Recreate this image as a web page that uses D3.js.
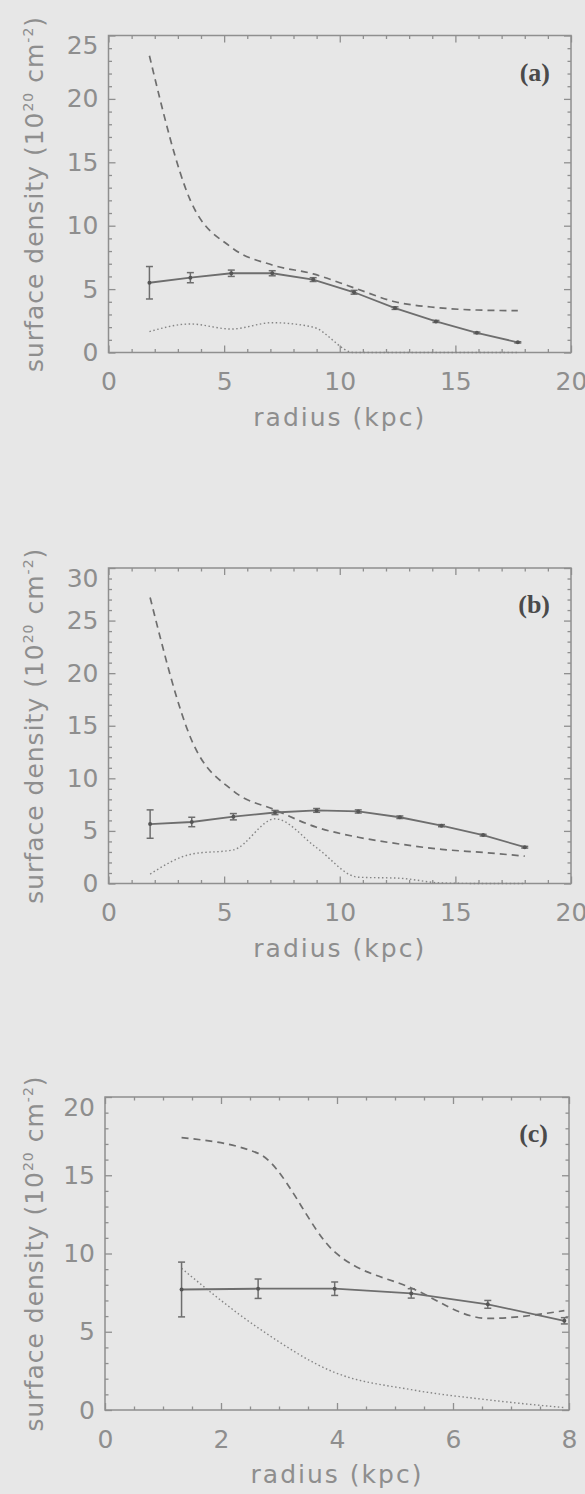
<!DOCTYPE html>
<html>
<head>
<meta charset="utf-8">
<script src="https://cdn.jsdelivr.net/npm/d3@7"></script>
<style>
  html, body { margin: 0; padding: 0; background: #e7e7e7; }
  svg { display: block; }
  .tick text { font-family: "DejaVu Sans", sans-serif; font-size: 25px; fill: #8e8e8e; }
  .title { font-family: "DejaVu Sans", sans-serif; font-size: 25px; fill: #8e8e8e; letter-spacing: 1px; }
  .xtitle { letter-spacing: 2px; }
  .letter { font-family: "Liberation Serif", serif; font-size: 26px; font-weight: bold; fill: #4a4a4a; }
</style>
</head>
<body>
<div id="chart"></div>
<script>

// panel (a)
var radii_a = [1.77, 3.54, 5.31, 7.08, 8.85, 10.62, 12.39, 14.16, 15.93, 17.7]
var solid_a = [5.5, 5.9, 6.25, 6.25, 5.75, 4.75, 3.5, 2.45, 1.55, 0.8]
var err_a = [1.28, 0.4, 0.25, 0.2, 0.15, 0.15, 0.1, 0.08, 0.06, 0.05]
var dashed_a = [23.4, 12.0, 8.3, 6.9, 6.2, 5.1, 4.0, 3.55, 3.35, 3.3]
var dotted_a = [1.65, 2.25, 1.85, 2.35, 2.0, 0, 0, 0, 0, 0]

// panel (b)
var radii_b = [1.8, 3.6, 5.4, 7.2, 9.0, 10.8, 12.6, 14.4, 16.2, 18.0]
var solid_b = [5.65, 5.85, 6.35, 6.75, 6.95, 6.85, 6.3, 5.5, 4.6, 3.45]
var err_b = [1.35, 0.45, 0.3, 0.2, 0.18, 0.15, 0.12, 0.1, 0.08, 0.08]
var dashed_b = [27.2, 13.6, 8.8, 7.0, 5.35, 4.4, 3.75, 3.25, 2.95, 2.6]
var dotted_b = [0.9, 2.8, 3.2, 6.15, 3.4, 0.6, 0.5, 0.05, 0, 0]

// panel (c)
var radii_c = [1.32, 2.64, 3.96, 5.28, 6.6, 7.92]
var solid_c = [7.7, 7.75, 7.75, 7.45, 6.75, 5.7]
var err_c = [1.75, 0.62, 0.43, 0.3, 0.25, 0.2]
var dashed_c = [17.4, 16.4, 10.1, 7.8, 5.85, 6.35]
var dotted_c = [9.05, 5.25, 2.4, 1.3, 0.65, 0.15]

var x_ticks_ac = [0, 5, 10, 15, 20]
var x_ticks_c = [0, 2, 4, 6, 8]
var y_ticks_a = [0, 5, 10, 15, 20, 25]
var y_ticks_b = [0, 5, 10, 15, 20, 25, 30]
var y_ticks_c = [0, 5, 10, 15, 20]

var x_title = 'radius (kpc)'
var panel_letters = ['(a)', '(b)', '(c)']

var panels = [
	{ letter: panel_letters[0], r: radii_a, solid: solid_a, err: err_a, dashed: dashed_a, dotted: dotted_a,
	  xt: x_ticks_ac, yt: y_ticks_a, xminor: 1, yminor: 1,
	  left: 108.5, right: 571, top: 35.5, bottom: 352.5 },
	{ letter: panel_letters[1], r: radii_b, solid: solid_b, err: err_b, dashed: dashed_b, dotted: dotted_b,
	  xt: x_ticks_ac, yt: y_ticks_b, xminor: 1, yminor: 1,
	  left: 108.5, right: 571, top: 568, bottom: 883.5 },
	{ letter: panel_letters[2], r: radii_c, solid: solid_c, err: err_c, dashed: dashed_c, dotted: dotted_c,
	  xt: x_ticks_c, yt: y_ticks_c, xminor: 0.5, yminor: 1,
	  left: 105, right: 569, top: 1097, bottom: 1410 }
]

var width = 585,
	height = 1494,
	axis_color = '#8f8f8f',
	line_color = '#6e6e6e'

var svg = d3.select('#chart')
	.append('svg')
	.attr('width', width)
	.attr('height', height)

svg.append('rect')
	.attr('width', width)
	.attr('height', height)
	.attr('fill', '#e7e7e7')

panels.forEach(p => draw_panel(p))

function minor_values(ticks, step) {
	var lo = ticks[0], hi = ticks[ticks.length - 1], out = []
	for (var v = lo; v <= hi + 1e-9; v += step) {
		var vv = Math.round(v * 100) / 100
		if (ticks.indexOf(vv) < 0) out.push(vv)
	}
	return out
}

function style_axis(g) {
	g.select('.domain').remove()
	g.selectAll('.tick line').attr('stroke', axis_color).attr('stroke-width', 1.3)
}

function draw_panel(p) {

	var x = d3.scaleLinear()
		.domain([p.xt[0], p.xt[p.xt.length - 1]])
		.range([p.left, p.right])

	var y = d3.scaleLinear()
		.domain([p.yt[0], p.yt[p.yt.length - 1]])
		.range([p.bottom, p.top])

	var g = svg.append('g')

	var xminor = minor_values(p.xt, p.xminor),
		yminor = minor_values(p.yt, p.yminor)

	// major ticks with labels (bottom, left)
	g.append('g')
		.attr('transform', 'translate(0,' + p.bottom + ')')
		.call(d3.axisBottom(x).tickValues(p.xt).tickSize(-7).tickPadding(20).tickFormat(d3.format('d')))
		.call(style_axis)

	var yl = g.append('g')
		.attr('transform', 'translate(' + p.left + ',0)')
		.call(d3.axisLeft(y).tickValues(p.yt).tickSize(-7).tickPadding(10).tickFormat(d3.format('d')))
		.call(style_axis)

	// the top label sits a little below its tick
	yl.selectAll('.tick')
		.filter(d => d === p.yt[p.yt.length - 1])
		.select('text')
		.attr('dy', '0.72em')

	// ticks without labels (top, right) and minor ticks
	g.append('g')
		.attr('transform', 'translate(0,' + p.top + ')')
		.call(d3.axisTop(x).tickValues(p.xt).tickSize(-7).tickFormat(''))
		.call(style_axis)

	g.append('g')
		.attr('transform', 'translate(' + p.right + ',0)')
		.call(d3.axisRight(y).tickValues(p.yt).tickSize(-7).tickFormat(''))
		.call(style_axis)

	g.append('g')
		.attr('transform', 'translate(0,' + p.bottom + ')')
		.call(d3.axisBottom(x).tickValues(xminor).tickSize(-3.5).tickFormat(''))
		.call(style_axis)

	g.append('g')
		.attr('transform', 'translate(0,' + p.top + ')')
		.call(d3.axisTop(x).tickValues(xminor).tickSize(-3.5).tickFormat(''))
		.call(style_axis)

	g.append('g')
		.attr('transform', 'translate(' + p.left + ',0)')
		.call(d3.axisLeft(y).tickValues(yminor).tickSize(-3.5).tickFormat(''))
		.call(style_axis)

	g.append('g')
		.attr('transform', 'translate(' + p.right + ',0)')
		.call(d3.axisRight(y).tickValues(yminor).tickSize(-3.5).tickFormat(''))
		.call(style_axis)

	// frame
	g.append('rect')
		.attr('x', p.left)
		.attr('y', p.top)
		.attr('width', p.right - p.left)
		.attr('height', p.bottom - p.top)
		.attr('fill', 'none')
		.attr('stroke', axis_color)
		.attr('stroke-width', 1.5)

	var pts = (vals) => p.r.map((r, i) => [r, vals[i]])

	var smooth = d3.line()
		.x(d => x(d[0]))
		.y(d => y(d[1]))
		.curve(d3.curveMonotoneX)

	var straight = d3.line()
		.x(d => x(d[0]))
		.y(d => y(d[1]))

	g.append('path')
		.datum(pts(p.dotted))
		.attr('fill', 'none')
		.attr('stroke', '#858585')
		.attr('stroke-width', 1.4)
		.attr('stroke-dasharray', '1.5,2.5')
		.attr('d', smooth)

	g.append('path')
		.datum(pts(p.dashed))
		.attr('fill', 'none')
		.attr('stroke', line_color)
		.attr('stroke-width', 1.7)
		.attr('stroke-dasharray', '7,5')
		.attr('d', smooth)

	g.append('path')
		.datum(pts(p.solid))
		.attr('fill', 'none')
		.attr('stroke', line_color)
		.attr('stroke-width', 1.8)
		.attr('d', straight)

	var bars = g.append('g')
		.selectAll('g')
		.data(p.r.map((r, i) => ({ r: r, v: p.solid[i], e: p.err[i] })))
		.join('g')

	bars.append('line')
		.attr('x1', d => x(d.r)).attr('x2', d => x(d.r))
		.attr('y1', d => y(d.v - d.e)).attr('y2', d => y(d.v + d.e))
		.attr('stroke', line_color).attr('stroke-width', 1.5)

	bars.selectAll('.cap')
		.data(d => [[d.r, d.v - d.e], [d.r, d.v + d.e]])
		.join('line')
		.attr('x1', d => x(d[0]) - 3.5).attr('x2', d => x(d[0]) + 3.5)
		.attr('y1', d => y(d[1])).attr('y2', d => y(d[1]))
		.attr('stroke', line_color).attr('stroke-width', 1.5)

	bars.append('circle')
		.attr('cx', d => x(d.r))
		.attr('cy', d => y(d.v))
		.attr('r', 2)
		.attr('fill', '#555')

	// texts
	g.append('text')
		.attr('class', 'letter')
		.attr('x', p.right - 21)
		.attr('y', p.top + 45)
		.attr('text-anchor', 'end')
		.text(p.letter)

	g.append('text')
		.attr('class', 'title xtitle')
		.attr('x', (p.left + p.right) / 2)
		.attr('y', p.bottom + 73)
		.attr('text-anchor', 'middle')
		.text(x_title)

	var yt = g.append('text')
		.attr('class', 'title')
		.attr('transform', 'translate(34,' + ((p.top + p.bottom) / 2) + ') rotate(-90)')
		.attr('text-anchor', 'middle')
		.attr('dy', '0.35em')

	yt.append('tspan').text('surface density (10')
	yt.append('tspan').attr('dy', -10).attr('font-size', 14).text('20')
	yt.append('tspan').attr('dy', 10).text(' cm')
	yt.append('tspan').attr('dy', -10).attr('font-size', 14).text('-2')
	yt.append('tspan').attr('dy', 10).text(')')

}

</script>
</body>
</html>
